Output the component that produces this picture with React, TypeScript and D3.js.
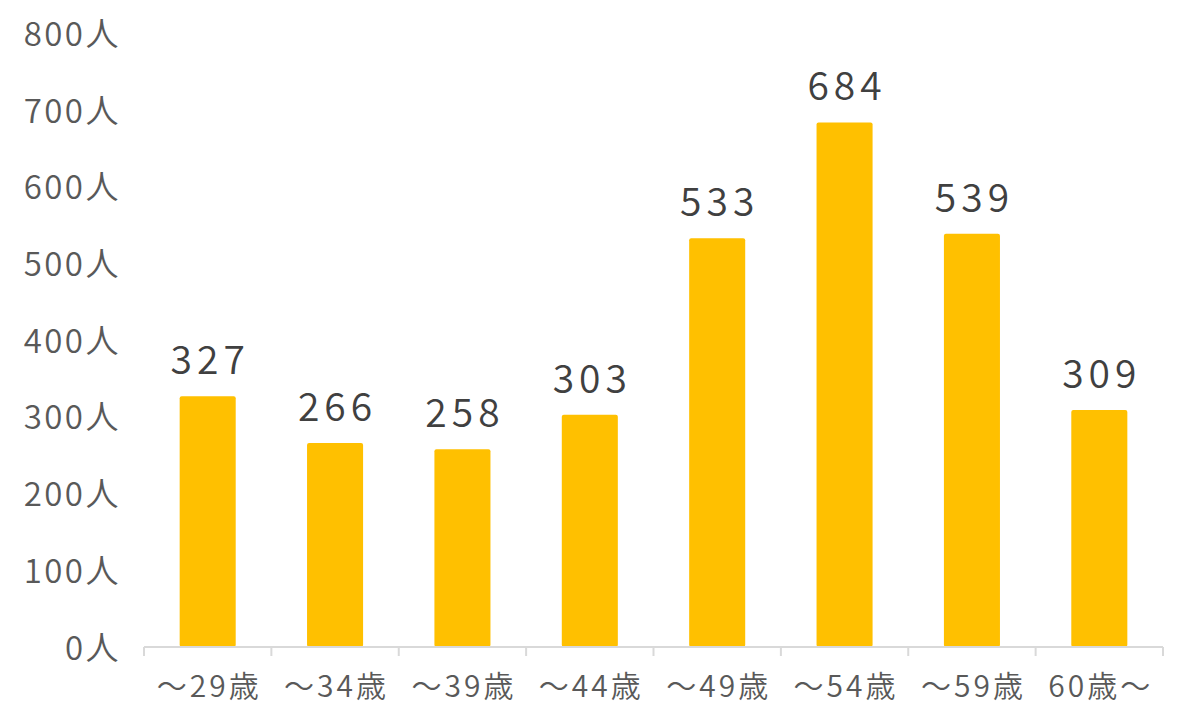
import React from "react";
import * as d3 from "d3";

const categories = ["～29歳", "～34歳", "～39歳", "～44歳", "～49歳", "～54歳", "～59歳", "60歳～"];
const values = [327, 266, 258, 303, 533, 684, 539, 309];
const yTicks = [0, 100, 200, 300, 400, 500, 600, 700, 800];
const yUnit = "人";

const W = 1200;
const H = 726;
const FONT = "'Noto Sans CJK JP', 'Noto Sans', sans-serif";

export default function App() {
  const x = d3.scaleBand<string>().domain(categories).range([144, 1163]).padding(0);
  const y = d3.scaleLinear().domain([0, 800]).range([647, 33.5]);
  const bw = x.bandwidth() * 0.44;
  const ticksX = [...categories.map((c) => x(c) as number), 1163];
  const valSp = 5;
  const catSp = 3;

  return (
    <svg
      width={W}
      height={H}
      style={{ position: "absolute", left: 0, top: 0, background: "#fff" }}
      fontFamily={FONT}
    >
      {yTicks.map((t) => (
        <text
          key={t}
          x={121}
          y={y(t)}
          dy="0.38em"
          textAnchor="end"
          fontSize={33}
          fontWeight={350}
          fill="#595959"
          letterSpacing={2.5}
        >
          {t}
          {yUnit}
        </text>
      ))}
      {values.map((v, i) => {
        const cx = (x(categories[i]) as number) + x.bandwidth() / 2;
        return (
          <g key={i}>
            <rect
              x={cx - bw / 2}
              y={y(v)}
              width={bw}
              height={y(0) - y(v)}
              rx={2}
              fill="#FFC000"
            />
            <text
              x={cx + valSp / 2}
              y={y(v) - 22}
              textAnchor="middle"
              fontSize={39}
              fontWeight={350}
              fill="#404040"
              letterSpacing={valSp}
            >
              {v}
            </text>
          </g>
        );
      })}
      <line x1={144} x2={1163} y1={y(0)} y2={y(0)} stroke="#d9d9d9" strokeWidth={2} />
      {ticksX.map((tx, i) => (
        <line key={i} x1={tx} x2={tx} y1={y(0)} y2={y(0) + 9} stroke="#d9d9d9" strokeWidth={2} />
      ))}
      {categories.map((c) => (
        <text
          key={c}
          x={(x(c) as number) + x.bandwidth() / 2 + catSp / 2}
          y={697}
          textAnchor="middle"
          fontSize={30}
          fontWeight={350}
          fill="#595959"
          letterSpacing={catSp}
        >
          {c}
        </text>
      ))}
    </svg>
  );
}
